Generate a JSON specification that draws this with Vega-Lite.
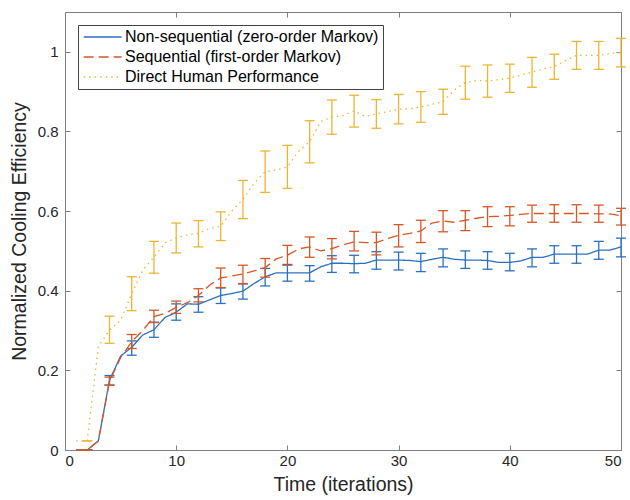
{
  "$schema": "https://vega.github.io/schema/vega-lite/v6.json",
  "width": 556,
  "height": 438,
  "autosize": {"type": "none"},
  "padding": {"left": 65, "top": 12, "right": 9, "bottom": 50},
  "background": "white",
  "data": {"values": [
    {"t":1,"n":0,"s":0,"d":0.023},
    {"t":2,"n":0,"s":0,"d":0.023,"nl":0,"nh":0,"sl":0,"sh":0,"dl":0.023,"dh":0.023},
    {"t":3,"n":0.023,"s":0.023,"d":0.26},
    {"t":4,"n":0.175,"s":0.172,"d":0.301,"nl":0.163,"nh":0.187,"sl":0.163,"sh":0.183,"dl":0.268,"dh":0.336},
    {"t":5,"n":0.236,"s":0.232,"d":0.326},
    {"t":6,"n":0.258,"s":0.272,"d":0.392,"nl":0.238,"nh":0.274,"sl":0.255,"sh":0.29,"dl":0.35,"dh":0.435},
    {"t":7,"n":0.289,"s":0.3,"d":0.452},
    {"t":8,"n":0.302,"s":0.335,"d":0.484,"nl":0.283,"nh":0.321,"sl":0.32,"sh":0.351,"dl":0.444,"dh":0.524},
    {"t":9,"n":0.333,"s":0.343,"d":0.52},
    {"t":10,"n":0.346,"s":0.358,"d":0.533,"nl":0.326,"nh":0.367,"sl":0.343,"sh":0.374,"dl":0.495,"dh":0.57},
    {"t":11,"n":0.367,"s":0.37,"d":0.54},
    {"t":12,"n":0.366,"s":0.388,"d":0.544,"nl":0.346,"nh":0.385,"sl":0.372,"sh":0.405,"dl":0.51,"dh":0.576},
    {"t":13,"n":0.377,"s":0.414,"d":0.556},
    {"t":14,"n":0.388,"s":0.432,"d":0.562,"nl":0.368,"nh":0.407,"sl":0.408,"sh":0.457,"dl":0.526,"dh":0.598},
    {"t":15,"n":0.393,"s":0.437,"d":0.6},
    {"t":16,"n":0.399,"s":0.442,"d":0.629,"nl":0.379,"nh":0.418,"sl":0.417,"sh":0.464,"dl":0.581,"dh":0.677},
    {"t":17,"n":0.418,"s":0.45,"d":0.67},
    {"t":18,"n":0.435,"s":0.458,"d":0.699,"nl":0.412,"nh":0.456,"sl":0.434,"sh":0.481,"dl":0.647,"dh":0.751},
    {"t":19,"n":0.445,"s":0.48,"d":0.703},
    {"t":20,"n":0.445,"s":0.489,"d":0.711,"nl":0.424,"nh":0.466,"sl":0.464,"sh":0.514,"dl":0.657,"dh":0.765},
    {"t":21,"n":0.445,"s":0.505,"d":0.75},
    {"t":22,"n":0.445,"s":0.51,"d":0.774,"nl":0.424,"nh":0.463,"sl":0.484,"sh":0.535,"dl":0.721,"dh":0.827},
    {"t":23,"n":0.46,"s":0.5,"d":0.825},
    {"t":24,"n":0.469,"s":0.506,"d":0.836,"nl":0.446,"nh":0.488,"sl":0.48,"sh":0.531,"dl":0.793,"dh":0.879},
    {"t":25,"n":0.469,"s":0.515,"d":0.84},
    {"t":26,"n":0.468,"s":0.523,"d":0.851,"nl":0.445,"nh":0.489,"sl":0.5,"sh":0.549,"dl":0.811,"dh":0.891},
    {"t":27,"n":0.469,"s":0.521,"d":0.838},
    {"t":28,"n":0.477,"s":0.521,"d":0.844,"nl":0.454,"nh":0.498,"sl":0.49,"sh":0.547,"dl":0.808,"dh":0.88},
    {"t":29,"n":0.477,"s":0.531,"d":0.85},
    {"t":30,"n":0.477,"s":0.539,"d":0.856,"nl":0.452,"nh":0.497,"sl":0.51,"sh":0.566,"dl":0.819,"dh":0.893},
    {"t":31,"n":0.476,"s":0.544,"d":0.857},
    {"t":32,"n":0.473,"s":0.55,"d":0.862,"nl":0.448,"nh":0.494,"sl":0.521,"sh":0.577,"dl":0.823,"dh":0.9},
    {"t":33,"n":0.479,"s":0.57,"d":0.868},
    {"t":34,"n":0.484,"s":0.575,"d":0.875,"nl":0.46,"nh":0.505,"sl":0.548,"sh":0.601,"dl":0.843,"dh":0.906},
    {"t":35,"n":0.479,"s":0.572,"d":0.904},
    {"t":36,"n":0.477,"s":0.577,"d":0.923,"nl":0.456,"nh":0.5,"sl":0.551,"sh":0.601,"dl":0.881,"dh":0.964},
    {"t":37,"n":0.477,"s":0.582,"d":0.928},
    {"t":38,"n":0.476,"s":0.586,"d":0.927,"nl":0.454,"nh":0.498,"sl":0.561,"sh":0.611,"dl":0.886,"dh":0.967},
    {"t":39,"n":0.471,"s":0.587,"d":0.93},
    {"t":40,"n":0.471,"s":0.589,"d":0.934,"nl":0.45,"nh":0.494,"sl":0.563,"sh":0.611,"dl":0.898,"dh":0.969},
    {"t":41,"n":0.475,"s":0.592,"d":0.942},
    {"t":42,"n":0.484,"s":0.594,"d":0.949,"nl":0.46,"nh":0.505,"sl":0.572,"sh":0.615,"dl":0.911,"dh":0.986},
    {"t":43,"n":0.484,"s":0.594,"d":0.957},
    {"t":44,"n":0.492,"s":0.594,"d":0.963,"nl":0.469,"nh":0.513,"sl":0.572,"sh":0.616,"dl":0.931,"dh":0.994},
    {"t":45,"n":0.492,"s":0.594,"d":0.978},
    {"t":46,"n":0.492,"s":0.594,"d":0.991,"nl":0.469,"nh":0.513,"sl":0.572,"sh":0.616,"dl":0.956,"dh":1.026},
    {"t":47,"n":0.492,"s":0.594,"d":0.991},
    {"t":48,"n":0.502,"s":0.593,"d":0.991,"nl":0.479,"nh":0.524,"sl":0.572,"sh":0.615,"dl":0.956,"dh":1.026},
    {"t":49,"n":0.502,"s":0.593,"d":0.996},
    {"t":50,"n":0.51,"s":0.588,"d":0.998,"nl":0.485,"nh":0.532,"sl":0.565,"sh":0.607,"dl":0.962,"dh":1.034}
  ]},
  "config": {
    "font": "Liberation Sans",
    "view": {"stroke": null},
    "axis": {
      "grid": false,
      "domainColor": "#808080",
      "tickColor": "#808080",
      "domainWidth": 1,
      "tickWidth": 1,
      "tickSize": -5,
      "labelFont": "Liberation Sans",
      "labelFontSize": 15,
      "labelColor": "#262626",
      "titleFont": "Liberation Sans",
      "titleFontSize": 19.5,
      "titleFontWeight": "normal",
      "titleColor": "#262626"
    },
    "legend": {
      "orient": "none",
      "legendX": 13,
      "legendY": 13,
      "direction": "vertical",
      "strokeColor": "#444444",
      "fillColor": "white",
      "padding": 4,
      "symbolType": "M-1,0H5",
      "symbolSize": 160,
      "symbolStrokeWidth": 1.3,
      "labelFont": "Liberation Sans",
      "labelFontSize": 16,
      "labelColor": "#000000",
      "labelOffset": 27,
      "rowPadding": 4,
      "labelLimit": 400
    }
  },
  "resolve": {"axis": {"x": "independent", "y": "independent"}},
  "layer": [
    {
      "mark": {"type": "line", "strokeWidth": 1.3},
      "encoding": {
        "x": {"field": "t", "type": "quantitative", "scale": {"domain": [0, 50], "nice": false},
              "axis": {"orient": "bottom", "values": [0, 10, 20, 30, 40, 50], "title": "Time (iterations)", "labelPadding": 8, "titlePadding": 7}},
        "y": {"field": "n", "type": "quantitative", "scale": {"domain": [0, 1.1], "nice": false},
              "axis": {"orient": "left", "values": [0, 0.2, 0.4, 0.6, 0.8, 1], "format": "~g", "title": "Normalized Cooling Efficiency", "labelPadding": 12, "titlePadding": 8}},
        "color": {"datum": "Non-sequential (zero-order Markov)", "type": "nominal",
                  "scale": {"domain": ["Non-sequential (zero-order Markov)", "Sequential (first-order Markov)", "Direct Human Performance"], "range": ["#2a70c2", "#d65726", "#ebb532"]},
                  "legend": {"title": null}},
        "strokeDash": {"datum": "Non-sequential (zero-order Markov)", "type": "nominal",
                  "scale": {"domain": ["Non-sequential (zero-order Markov)", "Sequential (first-order Markov)", "Direct Human Performance"], "range": [[1, 0], [10, 5], [1.5, 4]]},
                  "legend": {"title": null}}
      }
    },
    {
      "transform": [{"filter": "isValid(datum.nl)"}],
      "mark": {"type": "rule", "color": "#2a70c2", "strokeWidth": 1.3},
      "encoding": {
        "x": {"field": "t", "type": "quantitative", "axis": {"orient": "top", "values": [0, 10, 20, 30, 40, 50], "labels": false, "title": null}},
        "y": {"field": "nl", "type": "quantitative", "axis": {"orient": "right", "values": [0, 0.2, 0.4, 0.6, 0.8, 1], "labels": false, "title": null}},
        "y2": {"field": "nh"}
      }
    },
    {
      "transform": [{"filter": "isValid(datum.nl)"}],
      "mark": {"type": "rule", "color": "#2a70c2", "strokeWidth": 1.3, "xOffset": -5, "x2Offset": 5},
      "encoding": {
        "x": {"field": "t", "type": "quantitative", "axis": null},
        "x2": {"field": "t"},
        "y": {"field": "nl", "type": "quantitative", "axis": null}
      }
    },
    {
      "transform": [{"filter": "isValid(datum.nl)"}],
      "mark": {"type": "rule", "color": "#2a70c2", "strokeWidth": 1.3, "xOffset": -5, "x2Offset": 5},
      "encoding": {
        "x": {"field": "t", "type": "quantitative", "axis": null},
        "x2": {"field": "t"},
        "y": {"field": "nh", "type": "quantitative", "axis": null}
      }
    },
    {
      "mark": {"type": "line", "strokeWidth": 1.3},
      "encoding": {
        "x": {"field": "t", "type": "quantitative", "axis": null},
        "y": {"field": "s", "type": "quantitative", "axis": null},
        "color": {"datum": "Sequential (first-order Markov)", "type": "nominal"},
        "strokeDash": {"datum": "Sequential (first-order Markov)", "type": "nominal"}
      }
    },
    {
      "transform": [{"filter": "isValid(datum.sl)"}],
      "mark": {"type": "rule", "color": "#d65726", "strokeWidth": 1.3},
      "encoding": {
        "x": {"field": "t", "type": "quantitative", "axis": null},
        "y": {"field": "sl", "type": "quantitative", "axis": null},
        "y2": {"field": "sh"}
      }
    },
    {
      "transform": [{"filter": "isValid(datum.sl)"}],
      "mark": {"type": "rule", "color": "#d65726", "strokeWidth": 1.3, "xOffset": -5, "x2Offset": 5},
      "encoding": {
        "x": {"field": "t", "type": "quantitative", "axis": null},
        "x2": {"field": "t"},
        "y": {"field": "sl", "type": "quantitative", "axis": null}
      }
    },
    {
      "transform": [{"filter": "isValid(datum.sl)"}],
      "mark": {"type": "rule", "color": "#d65726", "strokeWidth": 1.3, "xOffset": -5, "x2Offset": 5},
      "encoding": {
        "x": {"field": "t", "type": "quantitative", "axis": null},
        "x2": {"field": "t"},
        "y": {"field": "sh", "type": "quantitative", "axis": null}
      }
    },
    {
      "mark": {"type": "line", "strokeWidth": 1.3},
      "encoding": {
        "x": {"field": "t", "type": "quantitative", "axis": null},
        "y": {"field": "d", "type": "quantitative", "axis": null},
        "color": {"datum": "Direct Human Performance", "type": "nominal"},
        "strokeDash": {"datum": "Direct Human Performance", "type": "nominal"}
      }
    },
    {
      "transform": [{"filter": "isValid(datum.dl)"}],
      "mark": {"type": "rule", "color": "#ebb532", "strokeWidth": 1.3},
      "encoding": {
        "x": {"field": "t", "type": "quantitative", "axis": null},
        "y": {"field": "dl", "type": "quantitative", "axis": null},
        "y2": {"field": "dh"}
      }
    },
    {
      "transform": [{"filter": "isValid(datum.dl)"}],
      "mark": {"type": "rule", "color": "#ebb532", "strokeWidth": 1.3, "xOffset": -5, "x2Offset": 5},
      "encoding": {
        "x": {"field": "t", "type": "quantitative", "axis": null},
        "x2": {"field": "t"},
        "y": {"field": "dl", "type": "quantitative", "axis": null}
      }
    },
    {
      "transform": [{"filter": "isValid(datum.dl)"}],
      "mark": {"type": "rule", "color": "#ebb532", "strokeWidth": 1.3, "xOffset": -5, "x2Offset": 5},
      "encoding": {
        "x": {"field": "t", "type": "quantitative", "axis": null},
        "x2": {"field": "t"},
        "y": {"field": "dh", "type": "quantitative", "axis": null}
      }
    }
  ]
}
